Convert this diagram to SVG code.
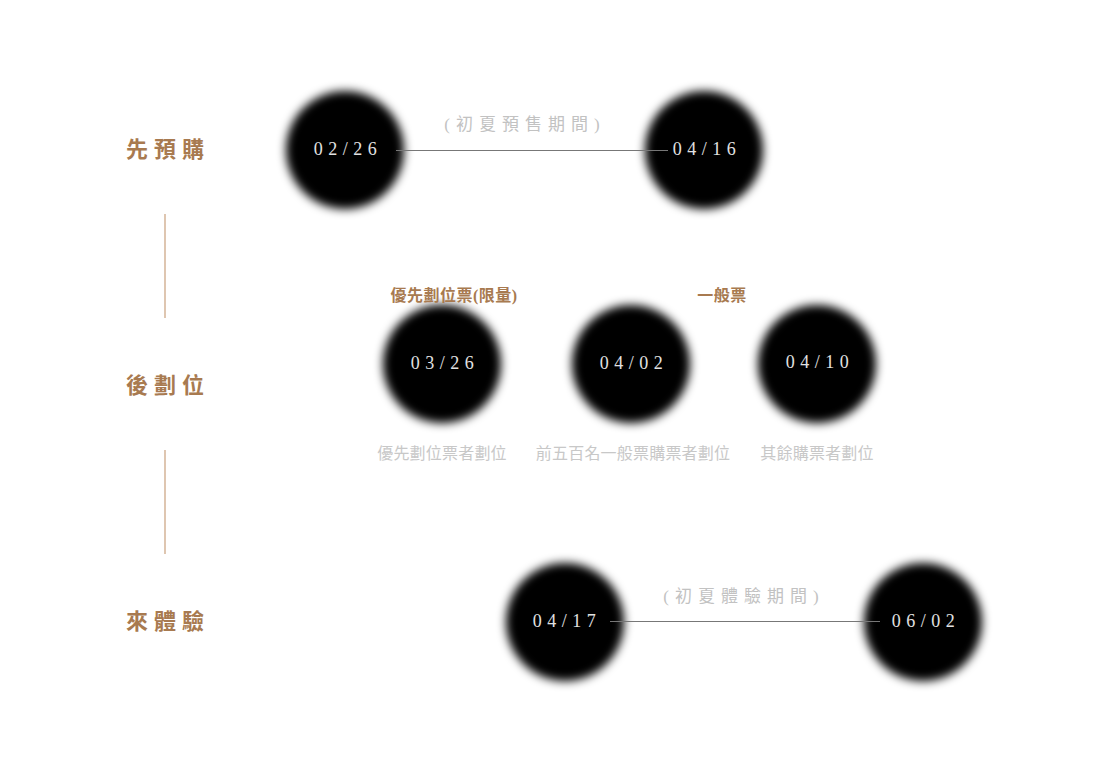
<svg xmlns="http://www.w3.org/2000/svg" width="1110" height="770" viewBox="0 0 1110 770">
<defs>
<filter id="soft" x="-30%" y="-30%" width="160%" height="160%">
<feGaussianBlur stdDeviation="5"/>
</filter>
<style>
.dot{fill:#000;filter:url(#soft)}
.date{font-family:"Liberation Serif","DejaVu Serif",serif;font-size:18px;fill:#e2e2e2;letter-spacing:5.5px;text-anchor:middle}
.head{font-family:"Liberation Serif","Noto Sans CJK TC",serif;font-size:22px;fill:#a87a50;font-weight:bold;letter-spacing:6px;text-anchor:middle}
.period{font-family:"Liberation Serif","Noto Sans CJK TC",serif;font-size:17px;fill:#c2c2c2;letter-spacing:6px;text-anchor:middle}
.tag{font-family:"Liberation Serif","Noto Sans CJK TC",serif;font-size:16px;fill:#a87a50;font-weight:bold;letter-spacing:0.5px;text-anchor:middle}
.desc{font-family:"Liberation Serif","Noto Sans CJK TC",serif;font-size:16px;fill:#c8c8c8;letter-spacing:0.2px;text-anchor:middle}
.conn{stroke:#777;stroke-width:1;fill:none}
.vline{stroke:#c9a07c;stroke-width:1.2}
</style>
</defs>
<rect width="1110" height="770" fill="#fff"/>
<g id="stages">
<text class="head" x="168" y="157">先預購</text>
<text class="head" x="168" y="393">後劃位</text>
<text class="head" x="168" y="629">來體驗</text>
<line class="vline" x1="165" y1="214" x2="165" y2="318"/>
<line class="vline" x1="165" y1="450" x2="165" y2="554"/>
</g>
<g id="node-0226"><circle class="dot" cx="345" cy="150" r="59"/><text class="date" x="348" y="155">02/26</text></g>
<g id="node-0416"><circle class="dot" cx="704" cy="150" r="59"/><text class="date" x="707" y="155">04/16</text></g>
<g id="node-0326"><circle class="dot" cx="442" cy="364" r="59"/><text class="date" x="445" y="369">03/26</text></g>
<g id="node-0402"><circle class="dot" cx="631" cy="364" r="59"/><text class="date" x="634" y="369">04/02</text></g>
<g id="node-0410"><circle class="dot" cx="817" cy="364" r="59"/><text class="date" x="820" y="368">04/10</text></g>
<g id="node-0417"><circle class="dot" cx="565" cy="622" r="59"/><text class="date" x="567" y="627">04/17</text></g>
<g id="node-0602"><circle class="dot" cx="923" cy="622" r="59"/><text class="date" x="926" y="627">06/02</text></g>
<g id="connectors">
<line class="conn" x1="396" y1="150.5" x2="668" y2="150.5"/>
<line class="conn" x1="610" y1="621.5" x2="880" y2="621.5"/>
</g>
<g id="labels">
<text class="period" x="525" y="130">(初夏預售期間)</text>
<text class="period" x="744" y="602">(初夏體驗期間)</text>
<text class="tag" x="454" y="301">優先劃位票(限量)</text>
<text class="tag" x="722" y="301">一般票</text>
<text class="desc" x="442" y="459">優先劃位票者劃位</text>
<text class="desc" x="633" y="459">前五百名一般票購票者劃位</text>
<text class="desc" x="817" y="459">其餘購票者劃位</text>
</g>
</svg>
